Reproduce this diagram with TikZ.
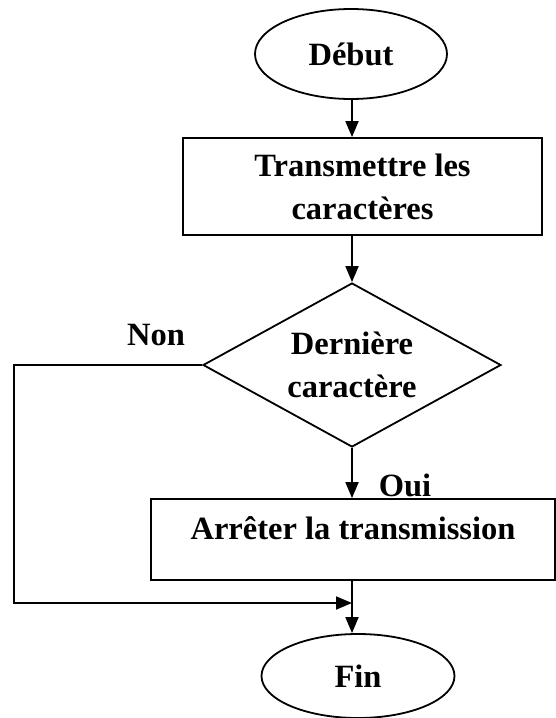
\documentclass[tikz,border=0pt]{standalone}
\usepackage{fontspec}
\setmainfont{Liberation Serif}
\usetikzlibrary{shapes.geometric,arrows.meta}

\tikzset{
  flow/.style={line width=1.8pt, draw=black},
  txt/.style={font=\fontsize{32.5}{43}\selectfont\bfseries, align=center},
  terminal/.style={flow, txt, ellipse, inner sep=0pt},
  process/.style={flow, txt, rectangle, inner sep=0pt},
  decision/.style={flow, txt, diamond, shape aspect=1.82, inner sep=0pt},
  link/.style={line width=1.8pt, -{Triangle[length=16pt,width=13pt]}},
  plain/.style={line width=1.8pt}
}

\begin{document}
\begin{tikzpicture}[x=1pt, y=-1pt]
  \useasboundingbox (0,0) rectangle (556,718);

  % start and end terminals
  \node[terminal, minimum width=192pt, minimum height=90pt] (debut) at (351,54) {Début};
  \node[terminal, minimum width=193pt, minimum height=84pt] (fin) at (358,676) {Fin};

  % processing steps
  \node[process, minimum width=359pt, minimum height=97pt] (trans) at (362.5,186.5)
       {Transmettre les\\caractères};
  \node[process, minimum width=404pt, minimum height=81pt,
        text height=20pt, text depth=20pt] (arret) at (353,539.5)
       {Arrêter la transmission};

  % test
  \node[decision, minimum width=298pt, minimum height=164pt] (test) at (352,365)
       {Dernière\\caractère};

  % branch labels
  \node[txt] (non) at (156,335) {Non};
  \node[txt] (oui) at (405,485) {Oui};

  % helper points of the loop-back line
  \coordinate (c1) at (14,365);
  \coordinate (c2) at (14,603);
  \coordinate (join) at (352,603);

  % connectors
  \draw[link] (debut.south -| join) -- (trans.north -| join);
  \draw[link] (trans.south -| join) -- (test.north);
  \draw[link] (test.south) -- (arret.north -| join);
  \draw[plain] (arret.south -| join) -- (join);
  \draw[link] (join) -- (fin.north -| join);
  \draw[link] (test.west) -- (c1) -- (c2) -- (join);
\end{tikzpicture}
\end{document}
